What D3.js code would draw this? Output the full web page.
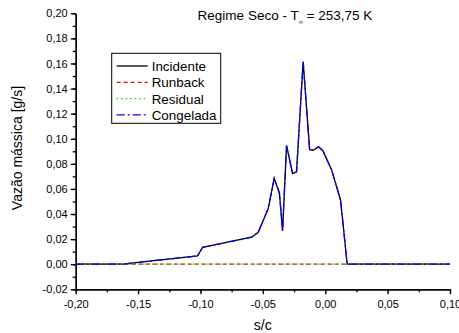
<!DOCTYPE html>
<html>
<head>
<meta charset="utf-8">
<script src="https://cdn.jsdelivr.net/npm/d3@7"></script>
<style>
  body { margin: 0; background: #fff; }
  svg { font-family: "Liberation Sans", Arial, sans-serif; }
</style>
</head>
<body>
<svg></svg>
<script>
var WIDTH = 459;
var HEIGHT = 333;

// data
var sc = [-0.20, -0.162, -0.1485, -0.1023, -0.0983, -0.059, -0.0537, -0.0457, -0.0409, -0.0367, -0.0342,
  -0.031, -0.0262, -0.023, -0.0177, -0.0125, -0.0093, -0.0053, -0.0019, 0.0051, 0.0123, 0.0176, 0.10];
var incidente = [0, 0, 0.0016, 0.0066, 0.0135, 0.0215, 0.0255, 0.0443, 0.0684, 0.0566, 0.0266,
  0.0946, 0.0723, 0.0737, 0.1614, 0.0913, 0.0910, 0.0936, 0.0905, 0.0752, 0.051, 0, 0];
var runback = [0, 0, 0, 0, 0, 0, 0, 0, 0, 0, 0, 0, 0, 0, 0, 0, 0, 0, 0, 0, 0, 0, 0];
var residual = [0, 0, 0, 0, 0, 0, 0, 0, 0, 0, 0, 0, 0, 0, 0, 0, 0, 0, 0, 0, 0, 0, 0];
var congelada = [0, 0, 0.0016, 0.0066, 0.0135, 0.0215, 0.0255, 0.0443, 0.0684, 0.0566, 0.0266,
  0.0946, 0.0723, 0.0737, 0.1614, 0.0913, 0.0910, 0.0936, 0.0905, 0.0752, 0.051, 0, 0];

var seriesNames = ['Incidente', 'Runback', 'Residual', 'Congelada'];
var xTicks = [-0.20, -0.15, -0.10, -0.05, 0.00, 0.05, 0.10];
var yTicks = [-0.02, 0.00, 0.02, 0.04, 0.06, 0.08, 0.10, 0.12, 0.14, 0.16, 0.18, 0.20];

var styles = [
  { color: '#000000', dash: null },
  { color: '#ff0000', dash: '4,3' },
  { color: '#00dd00', dash: '1.5,3' },
  { color: '#0000ff', dash: '8,3,2,3' }
];

var svg = d3.select('svg')
  .attr('width', WIDTH)
  .attr('height', HEIGHT);

var xScale = d3.scaleLinear().domain([-0.20, 0.10]).range([75.7, 450]);
var yScale = d3.scaleLinear().domain([-0.02, 0.20]).range([289.3, 13.3]);

var fmt = function(d){ return d3.format('.2f')(d).replace('.', ',').replace('−', '-'); };

// minor ticks
var xMinor = d3.range(-0.20, 0.1001, 0.025);
var yMinor = d3.range(-0.02, 0.2001, 0.01);

var bottomAxis = d3.axisBottom(xScale).tickValues(xTicks).tickFormat(fmt).tickSize(5).tickSizeOuter(0).tickPadding(6);
var bottomMinor = d3.axisBottom(xScale).tickValues(xMinor).tickFormat('').tickSize(3).tickSizeOuter(0);
var leftAxis = d3.axisLeft(yScale).tickValues(yTicks).tickFormat(fmt).tickSize(5).tickSizeOuter(0).tickPadding(3);
var leftMinor = d3.axisLeft(yScale).tickValues(yMinor).tickFormat('').tickSize(3).tickSizeOuter(0);

var lineGen = d3.line()
  .x(function(d){ return xScale(d[0]); })
  .y(function(d){ return yScale(d[1]); });

var allSeries = [incidente, runback, residual, congelada];
allSeries.forEach(function(vals, i){
  var pts = sc.map(function(x, j){ return [x, vals[j]]; });
  svg.append('path')
    .datum(pts)
    .attr('d', lineGen)
    .attr('fill', 'none')
    .attr('stroke', styles[i].color)
    .attr('stroke-width', 1.3)
    .attr('stroke-dasharray', styles[i].dash);
});

[bottomMinor, bottomAxis].forEach(function(ax){
  svg.append('g')
    .attr('class', 'x-axis')
    .attr('transform', 'translate(0,' + yScale(-0.02) + ')')
    .call(ax);
});
[leftMinor, leftAxis].forEach(function(ax){
  svg.append('g')
    .attr('class', 'y-axis')
    .attr('transform', 'translate(' + xScale(-0.20) + ',0)')
    .call(ax);
});

svg.selectAll('.x-axis path, .y-axis path, .x-axis line, .y-axis line')
  .attr('stroke', '#000')
  .attr('stroke-width', 1.3);
svg.selectAll('.x-axis text, .y-axis text')
  .attr('font-size', 11)
  .attr('fill', '#000')
  .attr('font-family', '"Liberation Sans", Arial, sans-serif');

// axis titles
svg.append('text')
  .attr('x', 262.8)
  .attr('y', 330)
  .attr('text-anchor', 'middle')
  .attr('font-size', 14)
  .text('s/c');

svg.append('text')
  .attr('transform', 'translate(22,148) rotate(-90)')
  .attr('text-anchor', 'middle')
  .attr('font-size', 14)
  .text('Vazão mássica [g/s]');

// title
var title = svg.append('text')
  .attr('x', 285)
  .attr('y', 20)
  .attr('text-anchor', 'middle')
  .attr('font-size', 13.5);
title.append('tspan').text('Regime Seco - T');
title.append('tspan').attr('font-size', 6).attr('dy', 4).text('∞');
title.append('tspan').attr('dy', -4).text(' = 253,75 K');

// legend
var legend = svg.append('g').attr('transform', 'translate(111.7,53.3)');
legend.append('rect')
  .attr('width', 109)
  .attr('height', 70)
  .attr('fill', '#fff')
  .attr('stroke', '#000')
  .attr('stroke-width', 1);
seriesNames.forEach(function(name, i){
  var yy = 12.7 + i * 16.3;
  legend.append('line')
    .attr('x1', 5).attr('x2', 36)
    .attr('y1', yy).attr('y2', yy)
    .attr('stroke', styles[i].color)
    .attr('stroke-width', 1.3)
    .attr('stroke-dasharray', styles[i].dash);
  legend.append('text')
    .attr('x', 40)
    .attr('y', yy + 5)
    .attr('font-size', 13.4)
    .text(name);
});
</script>
</body>
</html>
